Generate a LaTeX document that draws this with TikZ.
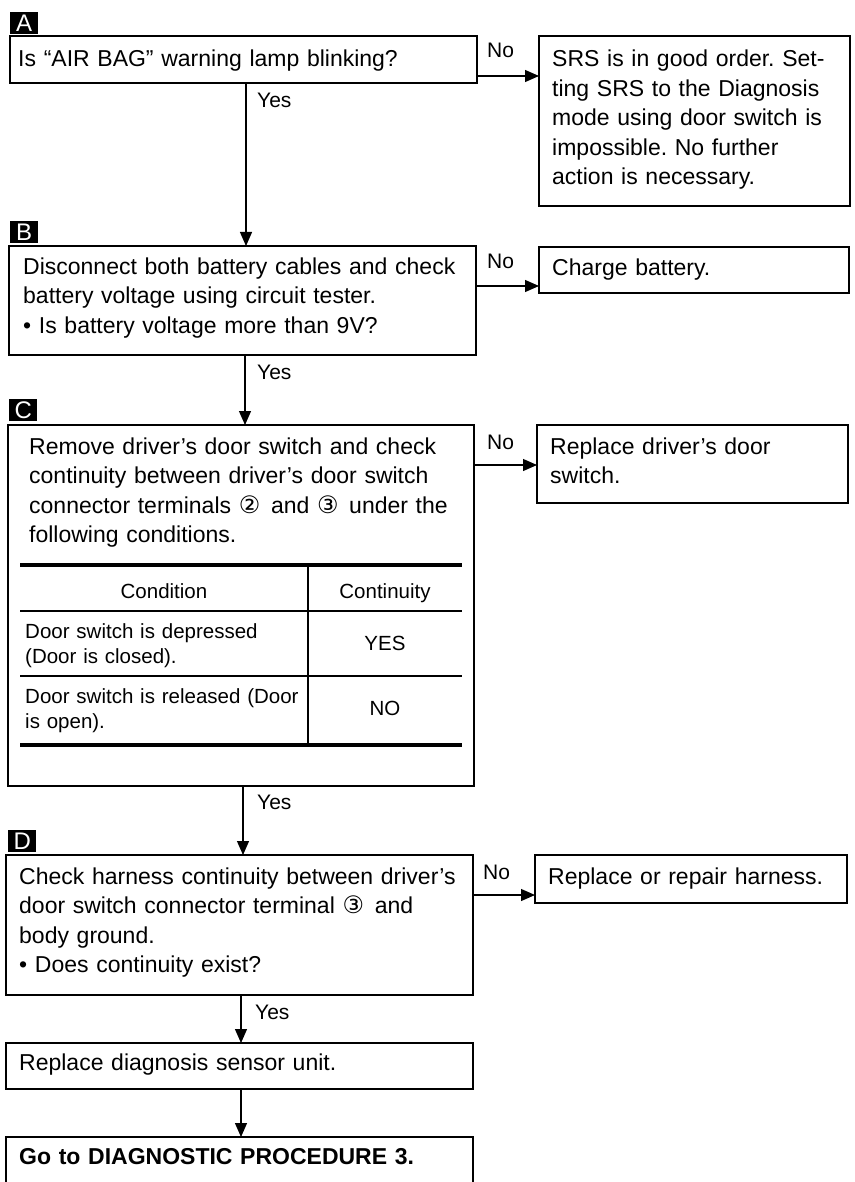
\documentclass[tikz,border=0pt]{standalone}
\usepackage{fontspec}
\setmainfont{Liberation Sans}
\newfontfamily\circfont{DejaVu Sans}
\usetikzlibrary{arrows.meta}
\newcommand{\circnum}[1]{{\circfont\fontsize{24}{24}\selectfont #1}\hspace{3pt}}
\frenchspacing
\begin{document}
\begin{tikzpicture}[x=1pt,y=-1pt,
  panel/.style={draw, line width=1.5pt, anchor=north west, inner sep=0pt, outer sep=0pt},
  tag/.style={fill=black, text=white, anchor=north west, minimum width=28pt, minimum height=22pt, inner sep=0pt, font=\fontsize{24}{24}\selectfont},
  txt/.style={anchor=base west, inner sep=0pt, align=left, text width=#1, font=\fontsize{23}{29.5}\selectfont},
  txt/.default=455pt,
  tcell/.style={anchor=base west, inner sep=0pt, align=left, text width=280pt, font=\fontsize{20.5}{25}\selectfont},
  tc/.style={anchor=base, inner sep=0pt, font=\fontsize{20.5}{25}\selectfont},
  lab/.style={anchor=base west, inner sep=0pt, font=\fontsize{21}{21}\selectfont},
  arr/.style={line width=1.2pt, -{Triangle[length=14pt,width=12pt]}},
  thick rule/.style={line width=3.5pt},
  thin rule/.style={line width=1.3pt}]
\useasboundingbox (0,0) rectangle (854,1182);

% section tags
\node[tag] (tA) at (10,12) {A};
\node[tag] (tB) at (10,221) {B};
\node[tag] (tC) at (9,399) {C};
\node[tag] (tD) at (8,830) {D};

% boxes
\node[panel, minimum width=467pt, minimum height=47pt] (A) at (10,36) {};
\node[panel, minimum width=311pt, minimum height=170pt] (SRS) at (539,36) {};
\node[panel, minimum width=467pt, minimum height=109pt] (B) at (9,246) {};
\node[panel, minimum width=310pt, minimum height=46pt] (CB) at (539,247) {};
\node[panel, minimum width=466pt, minimum height=361pt] (C) at (8,425) {};
\node[panel, minimum width=311pt, minimum height=78pt] (RDS) at (537,425) {};
\node[panel, minimum width=467pt, minimum height=140pt] (D) at (6,855) {};
\node[panel, minimum width=312pt, minimum height=48pt] (RH) at (535,855) {};
\node[panel, minimum width=467pt, minimum height=46pt] (E) at (6,1043) {};
\node[panel, minimum width=467pt, minimum height=80pt] (F) at (6,1137) {};

% box texts
\node[txt] (At) at (18,67) {Is “AIR BAG” warning lamp blinking?};
\node[txt=300pt] (SRSt) at (552,67) {SRS is in good order. Set-\\ting SRS to the Diagnosis\\mode using door switch is\\impossible. No further\\action is necessary.};
\node[txt] (Bt) at (23,274) {Disconnect both battery cables and check\\battery voltage using circuit tester.\\• Is battery voltage more than 9V?};
\node[txt=300pt] (CBt) at (552,275) {Charge battery.};
\node[txt] (Ct) at (29,454) {Remove driver’s door switch and check\\continuity between driver’s door switch\\connector terminals \circnum{②} and \circnum{③} under the\\following conditions.};
\node[txt=300pt] (RDSt) at (550,454) {Replace driver’s door\\switch.};
\node[txt] (Dt) at (19,884) {Check harness continuity between driver’s\\door switch connector terminal \circnum{③} and\\body ground.\\• Does continuity exist?};
\node[txt=300pt] (RHt) at (548,884) {Replace or repair harness.};
\node[txt] (Et) at (19,1070) {Replace diagnosis sensor unit.};
\node[txt] (Ft) at (19,1164) {\bfseries Go to DIAGNOSTIC PROCEDURE 3.};

% table inside C
\draw[thick rule] (20,565) -- (462,565);
\draw[thin rule] (20,611) -- (462,611);
\draw[thin rule] (20,676) -- (462,676);
\draw[thick rule] (20,745) -- (462,745);
\draw[thin rule] (308,565) -- (308,745);
\node[tc] (h1) at (164,598.5) {Condition};
\node[tc] (h2) at (385,598.5) {Continuity};
\node[tcell] (r1) at (25,638.5) {Door switch is depressed\\(Door is closed).};
\node[tc] (r1v) at (385,650) {YES};
\node[tcell] (r2) at (25,703.5) {Door switch is released (Door\\is open).};
\node[tc] (r2v) at (385,715) {NO};

% Yes / No labels
\node[lab] (yA) at (257,108) {Yes};
\node[lab] (yB) at (257,379) {Yes};
\node[lab] (yC) at (257,809) {Yes};
\node[lab] (yD) at (255,1019) {Yes};
\node[lab] (nA) at (487,58) {No};
\node[lab] (nB) at (487,269) {No};
\node[lab] (nC) at (487,449) {No};
\node[lab] (nD) at (483,879) {No};

% connector guides
\coordinate (xAB) at (246,0);
\coordinate (xBC) at (245,0);
\coordinate (xCD) at (243,0);
\coordinate (xDE) at (241,0);
\coordinate (yA) at (0,76);
\coordinate (yB) at (0,286);
\coordinate (yC) at (0,465);
\coordinate (yD) at (0,895);

% vertical connectors
\draw[arr] (A.south -| xAB) -- (B.north -| xAB);
\draw[arr] (B.south -| xBC) -- (C.north -| xBC);
\draw[arr] (C.south -| xCD) -- (D.north -| xCD);
\draw[arr] (D.south -| xDE) -- (E.north -| xDE);
\draw[arr] (E.south -| xDE) -- (F.north -| xDE);

% horizontal connectors
\draw[arr] (A.east |- yA) -- (SRS.west |- yA);
\draw[arr] (B.east |- yB) -- (CB.west |- yB);
\draw[arr] (C.east |- yC) -- (RDS.west |- yC);
\draw[arr] (D.east |- yD) -- (RH.west |- yD);
\end{tikzpicture}
\end{document}
